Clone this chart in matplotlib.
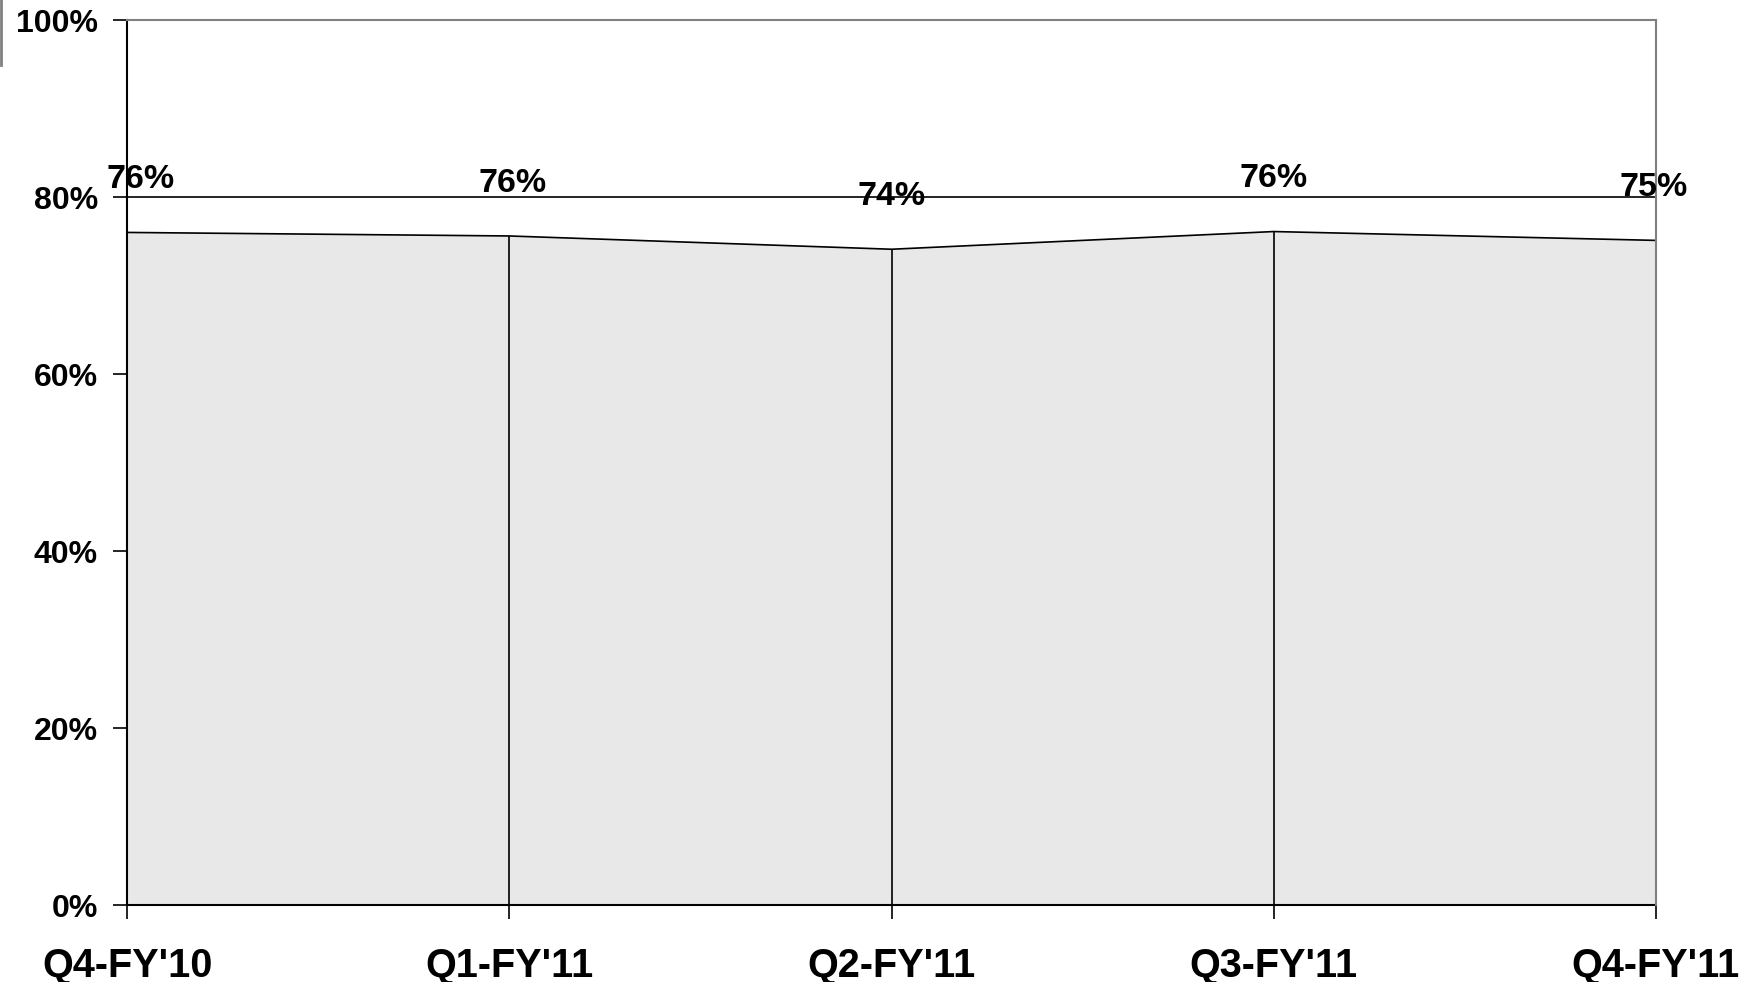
import matplotlib.pyplot as plt
from matplotlib.lines import Line2D

# Quarterly share, plotted as a filled area
quarters = ["Q4-FY'10", "Q1-FY'11", "Q2-FY'11", "Q3-FY'11", "Q4-FY'11"]
share = [0.76, 0.756, 0.741, 0.761, 0.751]
y_ticks = [0, 0.2, 0.4, 0.6, 0.8, 1.0]
label_shift = [10, 2, 0, 0, -2]   # horizontal nudge of each data label, in points

plt.rcParams['font.family'] = ['Liberation Sans', 'DejaVu Sans']
plt.rcParams['font.weight'] = 'bold'

fig = plt.figure(figsize=(17.6, 9.82), dpi=100)
ax = fig.add_axes([0.0722, 0.0784, 0.8687, 0.9012])

x = list(range(len(quarters)))
ax.fill_between(x, share, 0, color='#e8e8e8', zorder=2)
ax.plot(x, share, color='black', lw=1.2, zorder=3)
ax.vlines(x, 0, share, color='black', lw=1.2, zorder=3)

# data labels above each point
for xi, v, dx in zip(x, share, label_shift):
    ax.annotate(f"{v * 100:.0f}%", (xi, v), xytext=(dx, 38), textcoords='offset points',
                ha='center', va='center', fontsize=24.5, fontweight='bold', zorder=5,
                annotation_clip=False)

ax.set_xlim(0, len(quarters) - 1)
ax.set_ylim(0, 1.0)
ax.set_yticks(y_ticks)
ax.set_yticklabels([f"{int(t * 100)}%" for t in y_ticks])
ax.set_xticks(x)
ax.set_xticklabels(quarters)

ax.yaxis.grid(True, color='black', lw=1.2, zorder=1)
ax.set_axisbelow(True)

ax.tick_params(axis='y', direction='out', length=10, width=1.2, pad=11, labelsize=23)
ax.tick_params(axis='x', direction='out', length=10, width=1.2, pad=20, labelsize=28.5)
for lab in ax.get_xticklabels() + ax.get_yticklabels():
    lab.set_fontweight('bold')

for side in ['left', 'bottom']:
    ax.spines[side].set_color('black')
    ax.spines[side].set_linewidth(1.5)
for side in ['top', 'right']:
    ax.spines[side].set_color('#808080')
    ax.spines[side].set_linewidth(1.5)
    ax.spines[side].set_zorder(4)

# thin grey mark at the upper left edge
fig.add_artist(Line2D([0.0008, 0.0008], [1.0, 0.934], color='#808080', lw=2.0))

fig.savefig('out.png', dpi=100)
